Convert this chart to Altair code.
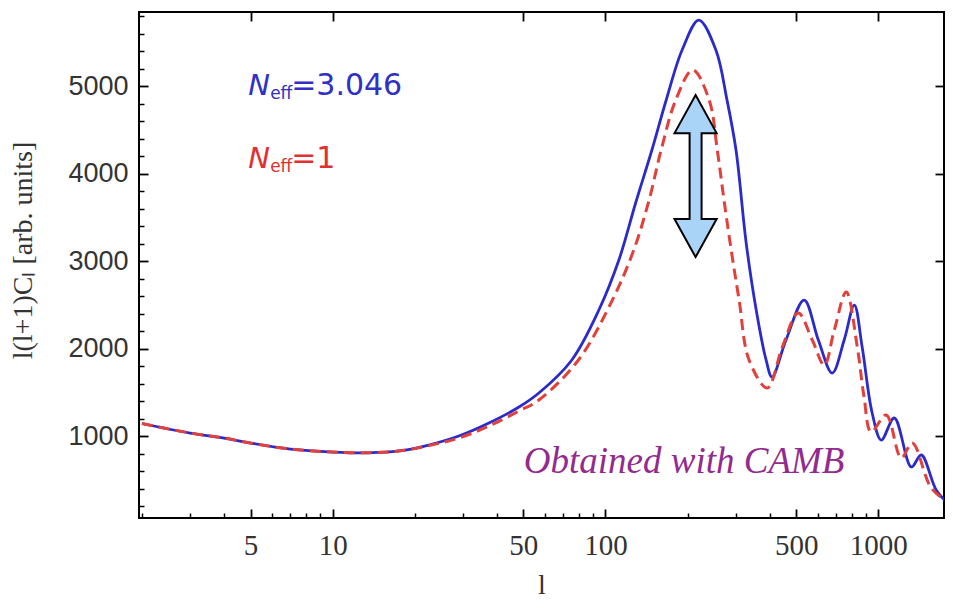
import altair as alt
import pandas as pd

# ---- data ----
l_blue = [2, 3, 4, 5, 7, 10, 13.5, 17.5, 22.5, 29, 37.4, 48.2, 57, 75.3, 94.6, 112, 129, 148, 167,
          191, 220, 254, 279, 301, 328, 357, 388, 408, 459, 535, 603, 678, 750, 817, 873, 950,
          1026, 1145, 1322, 1438, 1633, 1823]
cl_blue = [1143, 1034, 977, 920, 851, 817, 808, 829, 897, 1000, 1149, 1331, 1491, 1869, 2440, 3011,
           3663, 4269, 4840, 5411, 5754, 5411, 4840, 4269, 3206, 2440, 1869, 1674, 2097, 2554,
           2097, 1720, 2097, 2497, 2017, 1263, 954, 1206, 646, 783, 380, 215]

l_red = [2, 3, 4, 5, 7, 10, 13.5, 17.5, 22.5, 29, 37.4, 48.2, 57, 79.6, 106, 127, 144.5, 160, 181,
         209, 240, 257, 272, 289, 309, 336, 392, 445, 509, 573, 634, 690, 763, 838, 887, 942,
         1069, 1214, 1333, 1565, 1823]
cl_red = [1143, 1034, 977, 920, 851, 817, 808, 829, 890, 977, 1114, 1286, 1411, 1869, 2554, 3126,
          3697, 4269, 4840, 5183, 4840, 4269, 3697, 3126, 2554, 1869, 1549, 2017, 2406, 2097,
          1811, 2211, 2646, 2017, 1446, 1046, 1240, 749, 920, 405, 234]

x_major = [5, 10, 50, 100, 500, 1000]
x_minor = [2, 3, 4, 6, 7, 8, 9, 20, 30, 40, 60, 70, 80, 90, 200, 300, 400, 600, 700, 800, 900]
y_major = [1000, 2000, 3000, 4000, 5000]
y_minor = [200, 400, 600, 800, 1200, 1400, 1600, 1800, 2200, 2400, 2600, 2800, 3200, 3400,
           3600, 3800, 4200, 4400, 4600, 4800, 5200, 5400, 5600, 5800]

X_DOMAIN = [1.95, 1742]
Y_DOMAIN = [63, 5846]

# annotation anchors (data space)
label_l = [4.9]
label_y_blue = [4897]
label_y_red = [4063]
camb_l = [50.2]
camb_y = [577]
arrow_l = [214]
arrow_y = [3971]

BLUE = "#2b2bcc"
RED = "#e2403a"
BLUE_TXT = "#3030c4"
RED_TXT = "#e03030"
PURPLE = "#922a8f"

df_b = pd.DataFrame({"l": l_blue, "cl": cl_blue})
df_r = pd.DataFrame({"l": l_red, "cl": cl_red})

xs = alt.Scale(type="log", domain=X_DOMAIN, nice=False)
ys = alt.Scale(domain=Y_DOMAIN, nice=False, zero=False)


def X(axis=None, title=None):
    if axis is None:
        return alt.X("l:Q", scale=xs, axis=None)
    return alt.X("l:Q", scale=xs, axis=axis, title=title)


def Y(axis=None, title=None):
    if axis is None:
        return alt.Y("cl:Q", scale=ys, axis=None)
    return alt.Y("cl:Q", scale=ys, axis=axis, title=title)


blue = alt.Chart(df_b).mark_line(color=BLUE, strokeWidth=2.8, interpolate="catmull-rom",
                                 clip=True).encode(x=X(), y=Y())
red = alt.Chart(df_r).mark_line(color=RED, strokeWidth=3, strokeDash=[11, 6],
                                interpolate="catmull-rom", clip=True).encode(x=X(), y=Y())

# arrow
arrow_path = ("M0,-1 L0.26,-0.53 L0.074,-0.53 L0.074,0.53 L0.26,0.53 L0,1 "
              "L-0.26,0.53 L-0.074,0.53 L-0.074,-0.53 L-0.26,-0.53 Z")
df_arrow = pd.DataFrame({"l": arrow_l, "cl": arrow_y})
arrow = alt.Chart(df_arrow).mark_point(shape=arrow_path, size=162 * 162, filled=True,
                                       fill="#a9d3f7", stroke="black", strokeWidth=2,
                                       opacity=1, fillOpacity=1).encode(x=X(), y=Y())


def label(yv, rest, color):
    d = pd.DataFrame({"l": label_l, "cl": yv})
    n = alt.Chart(d).mark_text(text="N", font="DejaVu Sans", fontSize=29, fontStyle="italic",
                               color=color, align="left", baseline="alphabetic").encode(x=X(), y=Y())
    e = alt.Chart(d).mark_text(text="eff", font="DejaVu Sans", fontSize=17, dx=22, dy=4,
                               color=color, align="left", baseline="alphabetic").encode(x=X(), y=Y())
    r = alt.Chart(d).mark_text(text=rest, font="DejaVu Sans", fontSize=30, dx=43,
                               color=color, align="left", baseline="alphabetic").encode(x=X(), y=Y())
    return [n, e, r]


lab_blue = label(label_y_blue, "=3.046", BLUE_TXT)
lab_red = label(label_y_red, "=1", RED_TXT)

df_camb = pd.DataFrame({"l": camb_l, "cl": camb_y})
camb = alt.Chart(df_camb).mark_text(text="Obtained with CAMB", font="Liberation Serif", fontSize=37,
                                    fontStyle="italic", color=PURPLE, align="left",
                                    baseline="alphabetic").encode(x=X(), y=Y())

# axes (inward ticks via negative offsets)
ax_major = alt.Chart(df_b).mark_point(opacity=0).encode(
    x=X(alt.Axis(orient="bottom", values=x_major, format="d", offset=-9, tickSize=9, domain=False,
                 grid=False, labelFont="Liberation Serif", labelFontSize=29, labelPadding=13,
                 labelColor="#333333", tickColor="black", tickWidth=1.8, labelFlush=False,
                 labelOverlap=False, titleFont="Liberation Serif", titleFontSize=28,
                 titleFontWeight="normal", titleColor="#333333", titlePadding=11), title="l"),
    y=Y(alt.Axis(orient="left", values=y_major, format="d", offset=-9, tickSize=9, domain=False,
                 grid=False, labelFont="Liberation Sans", labelFontSize=27, labelPadding=11,
                 labelColor="#333333", tickColor="black", tickWidth=1.8, labelFlush=False,
                 labelOverlap=False, titleFont="Liberation Serif", titleFontSize=28,
                 titleFontWeight="normal", titleColor="#333333", titlePadding=30, titleY=238),
        title="l(l+1)Cₗ [arb. units]"),
)
ax_minor = alt.Chart(df_b).mark_point(opacity=0).encode(
    x=X(alt.Axis(orient="bottom", values=x_minor, labels=False, offset=-5, tickSize=5, domain=False,
                 grid=False, tickColor="black", tickWidth=1.5), title=None),
    y=Y(alt.Axis(orient="left", values=y_minor, labels=False, offset=-5, tickSize=5, domain=False,
                 grid=False, tickColor="black", tickWidth=1.5), title=None),
)
ax_frame = alt.Chart(df_b).mark_point(opacity=0).encode(
    x=X(alt.Axis(orient="top", values=x_major, labels=False, offset=-9, tickSize=9, domain=False,
                 grid=False, tickColor="black", tickWidth=1.8), title=None),
    y=Y(alt.Axis(orient="right", values=y_major, labels=False, offset=-9, tickSize=9, domain=False,
                 grid=False, tickColor="black", tickWidth=1.8), title=None),
)

chart = alt.layer(
    ax_major, ax_minor, ax_frame, blue, red, arrow, *lab_blue, *lab_red, camb
).resolve_axis(x="independent", y="independent").properties(
    width=805, height=506,
    autosize=alt.AutoSizeParams(type="none"),
    padding={"left": 131, "top": 4, "right": 1, "bottom": 84},
    background="white",
).configure_view(stroke="black", strokeWidth=2)

chart.save("out.html", embed_options={"renderer": "svg", "actions": False})
